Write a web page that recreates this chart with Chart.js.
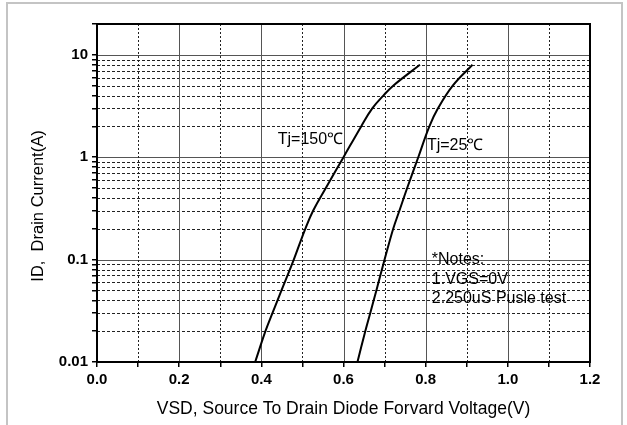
<!DOCTYPE html>
<html>
<head>
<meta charset="utf-8">
<script src="https://cdn.jsdelivr.net/npm/chart.js@4.4.0/dist/chart.umd.min.js"></script>
<style>
  html, body { margin: 0; padding: 0; background: #fff; }
  #wrap { position: relative; width: 627px; height: 425px; }
</style>
</head>
<body>
<div id="wrap"><canvas id="c" width="627" height="425"></canvas></div>
<script>
// Tj=150C curve (VSD in V, ID in A)
var vsd150 = [0.385, 0.410, 0.427, 0.449, 0.479, 0.507, 0.526, 0.557, 0.600, 0.643, 0.670, 0.697, 0.721, 0.786];
var id150  = [0.01,  0.02,  0.03,  0.05,  0.1,   0.2,   0.3,   0.5,   1,     2,     3,     4,     5,     8];
// Tj=25C curve
var vsd25 = [0.634, 0.653, 0.665, 0.680, 0.700, 0.721, 0.736, 0.755, 0.782, 0.809, 0.830, 0.866, 0.914];
var id25  = [0.01,  0.02,  0.03,  0.05,  0.1,   0.2,   0.3,   0.5,   1,     2,     3,     5,     8];

var xTicks = [0, 0.1, 0.2, 0.3, 0.4, 0.5, 0.6, 0.7, 0.8, 0.9, 1.0, 1.1, 1.2];
var xMajor = [0, 0.2, 0.4, 0.6, 0.8, 1.0, 1.2];
var yTicks = [0.01, 0.02, 0.03, 0.04, 0.05, 0.06, 0.07, 0.08, 0.09,
              0.1, 0.2, 0.3, 0.4, 0.5, 0.6, 0.7, 0.8, 0.9,
              1, 2, 3, 4, 5, 6, 7, 8, 9, 10, 20];
var yDecades = [0.01, 0.1, 1, 10];
var yLabels = ['0.01', '0.1', '1', '10'];

var xTitle = 'VSD, Source To Drain Diode Forvard Voltage(V)';
var yTitle = 'ID,  Drain Current(A)';
var notes = ['*Notes:', '1.VGS=0V', '2.250uS Pusle test'];

function pts(xs, ys) {
  return xs.map(function (v, i) { return { x: v, y: ys[i] }; });
}
function near(a, b) { return Math.abs(a - b) < 1e-9; }
function isIn(list, v) {
  for (var i = 0; i < list.length; i++) { if (near(list[i], v)) return i; }
  return -1;
}

var FONT = '"Liberation Sans", Arial, sans-serif';

// grid, plot frame, outer frame and texts
var decor = {
  id: 'decor',
  beforeDraw: function (chart) {
    var c = chart.ctx;
    c.save();
    c.strokeStyle = '#c4c4c4';
    c.lineWidth = 2;
    c.beginPath();
    c.moveTo(7, 430); c.lineTo(7, 3); c.lineTo(622, 3); c.lineTo(622, 430);
    c.stroke();
    c.restore();
  },
  beforeDatasetsDraw: function (chart) {
    var c = chart.ctx, a = chart.chartArea;
    var xs = chart.scales.x, ys = chart.scales.y;
    c.save();
    c.lineWidth = 1;
    yTicks.forEach(function (v) {
      if (near(v, 20)) return;
      var py = Math.round(ys.getPixelForValue(v)) + 0.5;
      if (isIn(yDecades, v) >= 0) { c.setLineDash([]); c.strokeStyle = '#555'; }
      else { c.setLineDash([3, 2]); c.strokeStyle = '#222'; }
      c.beginPath(); c.moveTo(a.left, py); c.lineTo(a.right, py); c.stroke();
    });
    xTicks.forEach(function (v) {
      var px = Math.round(xs.getPixelForValue(v)) + 0.5;
      if (isIn(xMajor, v) >= 0) { c.setLineDash([]); c.strokeStyle = '#555'; }
      else { c.setLineDash([2, 2]); c.strokeStyle = '#222'; }
      c.beginPath(); c.moveTo(px, a.top); c.lineTo(px, a.bottom); c.stroke();
    });
    c.restore();
  },
  afterDatasetsDraw: function (chart) {
    var c = chart.ctx, a = chart.chartArea;
    var xs = chart.scales.x, ys = chart.scales.y;
    c.save();
    c.strokeStyle = '#000';
    c.lineWidth = 2;
    c.strokeRect(a.left, a.top, a.right - a.left, a.bottom - a.top);

    c.fillStyle = '#000';
    c.font = '16px ' + FONT;
    c.textAlign = 'left';
    c.textBaseline = 'middle';
    c.fillText('Tj=150\u2103', xs.getPixelForValue(0.44), ys.getPixelForValue(1.47));
    c.fillText('Tj=25\u2103', xs.getPixelForValue(0.803), ys.getPixelForValue(1.31));
    var ny = ys.getPixelForValue(0.1);
    var nx = xs.getPixelForValue(0.815);
    notes.forEach(function (t, i) { c.fillText(t, nx, ny + i * 19.5); });

    c.textAlign = 'center';
    c.font = '17.5px ' + FONT;
    c.fillText(xTitle, (a.left + a.right) / 2, 409);
    c.font = '16.5px ' + FONT;
    c.translate(38, 206);
    c.rotate(-Math.PI / 2);
    c.fillText(yTitle, 0, 0);
    c.restore();
  }
};

var lineStyle = { showLine: true, borderColor: '#000', borderWidth: 2, pointRadius: 0, tension: 0.4, fill: false };

new Chart(document.getElementById('c'), {
  type: 'scatter',
  data: {
    datasets: [
      Object.assign({ label: 'Tj=150', data: pts(vsd150, id150) }, lineStyle),
      Object.assign({ label: 'Tj=25', data: pts(vsd25, id25) }, lineStyle)
    ]
  },
  options: {
    responsive: false,
    devicePixelRatio: 1,
    animation: false,
    layout: { padding: { left: 0, top: 24, right: 37, bottom: 0 } },
    plugins: { legend: { display: false }, tooltip: { enabled: false } },
    scales: {
      x: {
        type: 'linear', min: 0, max: 1.2,
        afterBuildTicks: function (s) { s.ticks = xTicks.map(function (v) { return { value: v }; }); },
        afterFit: function (s) { s.height = 63; },
        grid: { drawOnChartArea: false, tickLength: 5, color: '#000', lineWidth: 1.5 },
        border: { display: false },
        ticks: {
          autoSkip: false, maxRotation: 0, padding: 4, color: '#000',
          font: { family: FONT, size: 15, weight: 'bold' },
          callback: function (v) { return isIn(xMajor, v) >= 0 ? v.toFixed(1) : ''; }
        }
      },
      y: {
        type: 'logarithmic', min: 0.01, max: 20,
        afterBuildTicks: function (s) { s.ticks = yTicks.map(function (v) { return { value: v }; }); },
        afterFit: function (s) { s.width = 97; },
        grid: { drawOnChartArea: false, tickLength: 5, color: '#000', lineWidth: 1.5 },
        border: { display: false },
        ticks: {
          autoSkip: false, padding: 4, color: '#000',
          font: { family: FONT, size: 15, weight: 'bold' },
          callback: function (v) { var k = isIn(yDecades, v); return k >= 0 ? yLabels[k] : ''; }
        }
      }
    }
  },
  plugins: [decor]
});
</script>
</body>
</html>
